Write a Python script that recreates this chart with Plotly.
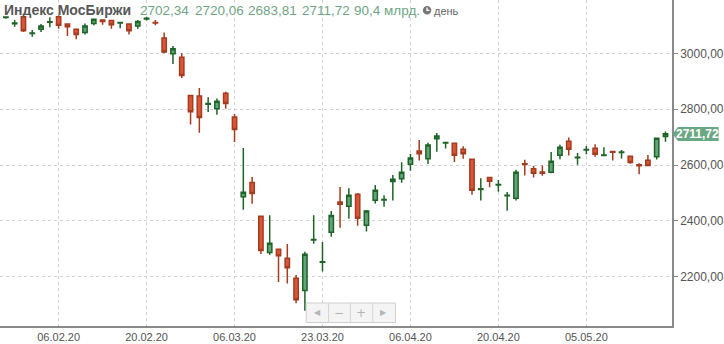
import plotly.graph_objects as go

dates = ["29.01.20","30.01.20","31.01.20","03.02.20","04.02.20","05.02.20","06.02.20","07.02.20","10.02.20","11.02.20",
         "12.02.20","13.02.20","14.02.20","17.02.20","18.02.20","19.02.20","20.02.20","21.02.20","25.02.20","26.02.20",
         "27.02.20","28.02.20","02.03.20","03.03.20","04.03.20","05.03.20","06.03.20","10.03.20","11.03.20","12.03.20",
         "13.03.20","16.03.20","17.03.20","18.03.20","19.03.20","20.03.20","23.03.20","24.03.20","25.03.20","26.03.20",
         "27.03.20","30.03.20","31.03.20","01.04.20","02.04.20","03.04.20","06.04.20","07.04.20","08.04.20","09.04.20",
         "10.04.20","13.04.20","14.04.20","15.04.20","16.04.20","17.04.20","20.04.20","21.04.20","22.04.20","23.04.20",
         "24.04.20","27.04.20","28.04.20","29.04.20","30.04.20","04.05.20","05.05.20","06.05.20","07.05.20","08.05.20",
         "12.05.20","13.05.20","14.05.20","15.05.20","18.05.20","19.05.20"]

opens = [3128,3106,3131,3071,3086,3111,3131,3105,3086,3074,
         3107,3119,3117,3108,3105,3098,3123,3110,3055,2998,
         2986,2849,2847,2818,2802,2857,2772,2487,2538,2417,
         2287,2299,2267,2195,2151,2332,2252,2360,2468,2453,
         2496,2385,2474,2475,2541,2551,2603,2650,2623,2694,
         2679,2678,2657,2621,2513,2556,2529,2490,2481,2605,
         2587,2575,2574,2635,2685,2626,2654,2660,2634,2649,
         2645,2632,2601,2617,2630,2702.34]
highs = [3133,3119,3133,3083,3105,3129,3136,3106,3088,3107,
         3124,3122,3118,3112,3107,3119,3131,3119,3074,3026,
         3000,2851,2876,2843,2838,2862,2783,2661,2557,2418,
         2421,2302,2318,2207,2290,2421,2325,2436,2522,2517,
         2500,2439,2529,2492,2565,2610,2640,2690,2680,2715,
         2683,2679,2667,2622,2553,2557,2547,2504,2583,2619,
         2597,2599,2647,2673,2699,2643,2668,2675,2664,2650,
         2654,2633,2607,2636,2697,2720.06]
lows = [3124,3095,3076,3059,3076,3093,3088,3062,3050,3067,
        3100,3102,3088,3090,3067,3088,3117,3100,3000,2962,
        2912,2745,2716,2790,2780,2802,2683,2440,2462,2282,
        2279,2182,2176,2106,2079,2319,2219,2344,2376,2408,
        2383,2362,2463,2451,2473,2537,2580,2616,2604,2648,
        2659,2611,2623,2494,2473,2521,2505,2437,2473,2563,
        2556,2562,2571,2621,2634,2601,2639,2630,2634,2616,
        2624,2605,2567,2599,2620,2683.81]
closes = [3130,3108,3081,3073,3098,3113,3100,3095,3067,3098,
          3122,3114,3102,3110,3081,3114,3125,3108,3005,3016,
          2921,2791,2770,2820,2828,2820,2727,2503,2498,2294,
          2320,2276,2233,2118,2281,2334,2254,2420,2460,2492,
          2410,2436,2510,2477,2549,2574,2625,2641,2672,2704,
          2681,2635,2641,2510,2515,2542,2531,2492,2574,2602,
          2571,2571,2614,2664,2657,2628,2656,2639,2636,2646,
          2647,2609,2598,2599,2696,2711.72]

tick_dates = ["06.02.20","20.02.20","06.03.20","23.03.20","06.04.20","20.04.20","05.05.20"]
y_ticks = [2200, 2400, 2600, 2800, 3000]
header_title = "Индекс МосБиржи"
header_values = ["2702,34", "2720,06", "2683,81", "2711,72", "90,4 млрд."]
period_label = "день"
last_label = "2711,72"
last_value = 2711.72

PW, PH = 677, 326
def px(x):
    return x / PW
def py(y):
    return 1 - y / PH

fig = go.Figure()
fig.add_trace(go.Candlestick(
    x=dates, open=opens, high=highs, low=lows, close=closes,
    increasing=dict(line=dict(color="#1e6428", width=1.5), fillcolor="#63a379"),
    decreasing=dict(line=dict(color="#a53c20", width=1.5), fillcolor="#db5638"),
    whiskerwidth=0, hoverinfo="skip", showlegend=False,
))

FONT = "Liberation Sans, Arial, sans-serif"
annotations = []
annotations.append(dict(text="<b>" + header_title + "</b>", x=px(2), y=py(10), xref="paper", yref="paper",
                        xanchor="left", yanchor="middle", showarrow=False,
                        font=dict(family=FONT, size=14, color="#585858")))
xs = [139, 194, 248, 302, 355]
for xv, t in zip(xs, header_values):
    annotations.append(dict(text=t, x=px(xv), y=py(10), xref="paper", yref="paper",
                            xanchor="left", yanchor="middle", showarrow=False,
                            font=dict(family=FONT, size=13.5, color="#6fa586")))
annotations.append(dict(text=period_label, x=px(435.5), y=py(10.5), xref="paper", yref="paper",
                        xanchor="left", yanchor="middle", showarrow=False,
                        font=dict(family=FONT, size=11, color="#666666")))
# price tag text
annotations.append(dict(text="<b>" + last_label + "</b>", x=px(702.5), y=last_value, xref="paper", yref="y",
                        xanchor="center", yanchor="middle", showarrow=False,
                        font=dict(family=FONT, size=12, color="#ffffff")))
# navigation symbols
for xv, t, s in [(319.5, "◀", 8), (342, "−", 12), (364, "+", 12), (386.5, "▶", 8)]:
    annotations.append(dict(text=t, x=px(xv), y=py(312.5), xref="paper", yref="paper",
                            xanchor="center", yanchor="middle", showarrow=False,
                            font=dict(family="DejaVu Sans", size=s, color="#b5b5b5")))

shapes = []
# clock icon
shapes.append(dict(type="circle", xref="paper", yref="paper",
                   x0=px(426), x1=px(434.5), y0=py(6), y1=py(14.5),
                   fillcolor="#777777", line=dict(width=0)))
shapes.append(dict(type="path", xref="paper", yref="paper",
                   path=f"M {px(430.2)} {py(7.5)} L {px(430.2)} {py(10.3)} L {px(432.6)} {py(10.3)}",
                   line=dict(color="#ffffff", width=1.3)))
# price tag
tag_half = 7
shapes.append(dict(type="path", xref="paper", yref="paper",
                   path=(f"M {px(677.5)} {py(134)} L {px(683)} {py(127)} L {px(724)} {py(127)} "
                         f"L {px(724)} {py(141)} L {px(683)} {py(141)} Z"),
                   fillcolor="#6aa884", line=dict(width=0), layer="above"))
# navigation box
shapes.append(dict(type="rect", xref="paper", yref="paper",
                   x0=px(308.5), x1=px(398.5), y0=py(303), y1=py(322.5),
                   fillcolor="#f4f4f4", line=dict(color="#cfcfcf", width=1), layer="above"))
for xv in [331, 353, 375.5]:
    shapes.append(dict(type="line", xref="paper", yref="paper",
                       x0=px(xv), x1=px(xv), y0=py(303), y1=py(322.5),
                       line=dict(color="#d5d5d5", width=1), layer="above"))

fig.update_layout(
    width=724, height=344,
    margin=dict(l=0, r=47, t=0, b=18),
    paper_bgcolor="#ffffff", plot_bgcolor="#ffffff",
    separators=", ",
    font=dict(family=FONT, size=11, color="#555555"),
    annotations=annotations, shapes=shapes,
    xaxis=dict(type="category", categoryorder="array", categoryarray=dates,
               range=[-0.666, 75.74], rangeslider=dict(visible=False),
               tickmode="array", tickvals=tick_dates, ticktext=tick_dates,
               showgrid=True, gridcolor="#d2d2d2", griddash="dot", gridwidth=1,
               showline=True, linecolor="#8a8a8a", linewidth=1.5,
               ticks="", tickfont=dict(family=FONT, size=11, color="#555555"),
               fixedrange=True),
    yaxis=dict(side="right", range=[2024.3, 3190.7],
               tickmode="array", tickvals=y_ticks, tickformat=".2f",
               showgrid=True, gridcolor="#d2d2d2", griddash="dot", gridwidth=1,
               showline=True, linecolor="#8a8a8a", linewidth=1.5,
               ticks="outside", ticklen=4, tickcolor="#8a8a8a",
               tickfont=dict(family=FONT, size=12, color="#555555"),
               zeroline=False, fixedrange=True),
)

fig.write_html("out.html")
